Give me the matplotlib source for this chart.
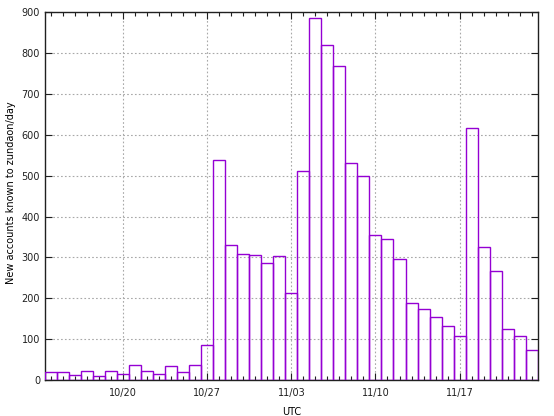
import numpy as np
import pandas as pd
import matplotlib
matplotlib.use("Agg")
import matplotlib.pyplot as plt
import matplotlib.dates as mdates

# daily new accounts, 2022-10-14 .. 2022-11-23
start_date = "2022-10-14"
counts = [19, 19, 13, 21, 11, 21, 15, 37, 21, 15,
          34, 19, 36, 85, 539, 330, 308, 306, 287, 303,
          212, 511, 887, 819, 768, 530, 499, 355, 346, 295,
          189, 175, 155, 131, 107, 617, 326, 268, 124, 107, 74]
tick_dates = ["2022-10-20", "2022-10-27", "2022-11-03", "2022-11-10", "2022-11-17"]

days = pd.date_range(start_date, periods=len(counts), freq="D")

fig = plt.figure(figsize=(5.54, 4.16), dpi=100)
ax = fig.add_axes([0.0812, 0.0865, 0.8894, 0.884])

color = "#9400d3"
ax.bar(days, counts, width=1.0, align="center", facecolor="none",
       edgecolor=color, linewidth=1.0, zorder=3)

ax.set_xlim(days[0] - pd.Timedelta(hours=12), days[-1] + pd.Timedelta(hours=12))
ax.set_ylim(0, 900)
ax.set_yticks(np.arange(0, 901, 100))

ax.set_xticks(pd.to_datetime(tick_dates))
ax.xaxis.set_major_formatter(mdates.DateFormatter("%m/%d"))
ax.xaxis.set_minor_locator(mdates.DayLocator())

ax.tick_params(which="both", direction="in", top=True, right=True,
               labelsize=7, colors="#202020")
ax.tick_params(which="major", length=5, width=0.8)
ax.tick_params(which="minor", length=3, width=0.8)
ax.tick_params(axis="x", pad=6)

ax.grid(True, which="major", linestyle=(0, (1.5, 2)), color="#a8a8a8", linewidth=0.8, zorder=0)

for s in ax.spines.values():
    s.set_color("#202020")
    s.set_linewidth(1.0)

ax.set_xlabel("UTC", fontsize=7, labelpad=6)
ax.set_ylabel("New accounts known to zundaon/day", fontsize=7)
ax.yaxis.set_label_coords(-0.059, 0.51)

fig.savefig("out.png", dpi=100)
